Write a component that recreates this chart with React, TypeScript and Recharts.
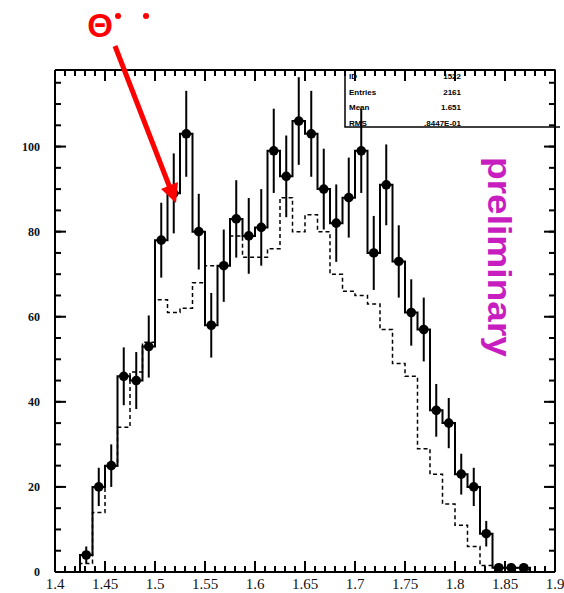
import React from 'react';
import { ComposedChart, Line, Scatter, ErrorBar, XAxis, YAxis, ReferenceLine } from 'recharts';

// mass bins (GeV), width 0.0125
const binCenters = [
  1.43125, 1.44375, 1.45625, 1.46875, 1.48125, 1.49375, 1.50625, 1.51875, 1.53125,
  1.54375, 1.55625, 1.56875, 1.58125, 1.59375, 1.60625, 1.61875, 1.63125, 1.64375,
  1.65625, 1.66875, 1.68125, 1.69375, 1.70625, 1.71875, 1.73125, 1.74375, 1.75625,
  1.76875, 1.78125, 1.79375, 1.80625, 1.81875, 1.83125, 1.84375, 1.85625, 1.86875,
];
const binWidth = 0.0125;

// measured counts (points with error bars, solid histogram)
const dataCounts = [
  4, 20, 25, 46, 45, 53, 78, 89, 103, 80, 58, 72, 83, 79, 81, 99, 93, 106,
  103, 90, 82, 88, 99, 75, 91, 73, 61, 57, 38, 35, 23, 20, 9, 1, 1, 1,
];
const dataErrors = [
  2, 4.5, 5, 6.8, 6.7, 7.3, 8.8, 9.4, 10.1, 8.9, 7.6, 8.5, 9.1, 8.9, 9, 9.9, 9.6, 10.3,
  10.1, 9.5, 9.1, 9.4, 9.9, 8.7, 9.5, 8.5, 7.8, 7.5, 6.2, 5.9, 4.8, 4.5, 3, 1, 1, 1,
];

// reference distribution (dashed histogram)
const refCounts = [
  2, 14, 25, 34, 47, 54, 64, 61, 62, 68, 72, 72, 79, 74, 74, 76, 88, 80,
  84, 80, 70, 66, 65, 63, 57, 49, 46, 29, 23, 16, 11, 6, 1.5, 1, 1, 0.5,
];

const xMajorTicks = [1.4, 1.45, 1.5, 1.55, 1.6, 1.65, 1.7, 1.75, 1.8, 1.85, 1.9];
const yMajorTicks = [0, 20, 40, 60, 80, 100];
const xMinorTicks = Array.from({ length: 49 }, (_, i) => +(1.41 + i * 0.01).toFixed(2));
const yMinorTicks = Array.from({ length: 23 }, (_, i) => (i + 1) * 5);

const statsLabels = ['ID', 'Entries', 'Mean', 'RMS'];
const statsValues = ['1522', '2161', '1.651', '.8447E-01'];

const W = 564;
const H = 593;
const X_DOMAIN: [number, number] = [1.4, 1.9];
const Y_DOMAIN: [number, number] = [0, 118];
// one pixel of the plot area in data units (plot is 500 x 502 px)
const PX_X = (X_DOMAIN[1] - X_DOMAIN[0]) / 500;
const PX_Y = (Y_DOMAIN[1] - Y_DOMAIN[0]) / 502;

// histogram outline points for a stepAfter line
const outline = (counts: number[]) => {
  const last = binCenters.length - 1;
  const pts = [{ x: binCenters[0] - binWidth / 2, y: 0 }];
  counts.forEach((c, i) => pts.push({ x: binCenters[i] - binWidth / 2, y: c }));
  pts.push({ x: binCenters[last] + binWidth / 2, y: counts[last] });
  pts.push({ x: binCenters[last] + binWidth / 2, y: 0 });
  return pts;
};

const dataOutline = outline(dataCounts);
const refOutline = outline(refCounts);
const points = binCenters.map((x, i) => ({ x, y: dataCounts[i], err: dataErrors[i] }));

const frameLine = { stroke: '#000', strokeWidth: 2 };
const Dot = (p: any) => <circle cx={p.cx} cy={p.cy} r={4.8} fill="#000" />;

// inward tick marks on all four sides of the frame
const tickSegments = () => {
  const segs: { x1: number; y1: number; x2: number; y2: number }[] = [];
  const [x0, x1] = X_DOMAIN;
  const [y0, y1] = Y_DOMAIN;
  const addX = (v: number, len: number) => {
    segs.push({ x1: v, y1: y0, x2: v, y2: y0 + len * PX_Y });
    segs.push({ x1: v, y1: y1, x2: v, y2: y1 - len * PX_Y });
  };
  const addY = (v: number, len: number) => {
    segs.push({ x1: x0, y1: v, x2: x0 + len * PX_X, y2: v });
    segs.push({ x1: x1, y1: v, x2: x1 - len * PX_X, y2: v });
  };
  xMajorTicks.forEach((v) => addX(v, 11));
  xMinorTicks.forEach((v) => addX(v, 6));
  yMajorTicks.forEach((v) => addY(v, 11));
  yMinorTicks.forEach((v) => addY(v, 6));
  return segs;
};
const ticks = tickSegments();

export default function App() {
  return (
    <div style={{ position: 'absolute', left: 0, top: 0, width: W, height: H, background: '#fff' }}>
      <ComposedChart width={W} height={H} margin={{ top: 70, right: 9, bottom: 0, left: 0 }}>
        <XAxis
          xAxisId="x" type="number" dataKey="x" domain={X_DOMAIN} allowDataOverflow
          ticks={xMajorTicks} interval={0} height={21} tickLine={false} tickSize={0} tickMargin={6}
          axisLine={frameLine}
          tick={{ fontFamily: 'Liberation Serif', fontSize: 15, fill: '#111' }}
        />
        <YAxis
          yAxisId="y" type="number" domain={Y_DOMAIN} allowDataOverflow
          ticks={yMajorTicks} interval={0} width={55} tickLine={false} tickSize={0} tickMargin={15}
          axisLine={frameLine}
          tick={{ fontFamily: 'Liberation Serif', fontSize: 12, fontWeight: 700, fill: '#111' }}
        />
        {/* top and right sides of the frame */}
        <ReferenceLine xAxisId="x" yAxisId="y" y={Y_DOMAIN[1]} stroke="#000" strokeWidth={2} ifOverflow="visible" />
        <ReferenceLine xAxisId="x" yAxisId="y" x={X_DOMAIN[1]} stroke="#000" strokeWidth={2} ifOverflow="visible" />
        {ticks.map((s, i) => (
          <ReferenceLine
            key={i} xAxisId="x" yAxisId="y" ifOverflow="visible"
            segment={[{ x: s.x1, y: s.y1 }, { x: s.x2, y: s.y2 }]}
            stroke="#000" strokeWidth={2}
          />
        ))}

        <Line
          xAxisId="x" yAxisId="y" data={refOutline} dataKey="y" type="stepAfter"
          stroke="#000" strokeWidth={1.5} strokeDasharray="4 3" dot={false} activeDot={false}
          isAnimationActive={false}
        />
        <Line
          xAxisId="x" yAxisId="y" data={dataOutline} dataKey="y" type="stepAfter"
          stroke="#000" strokeWidth={2} dot={false} activeDot={false}
          isAnimationActive={false}
        />
        <Scatter xAxisId="x" yAxisId="y" data={points} dataKey="y" shape={Dot} isAnimationActive={false}>
          <ErrorBar dataKey="err" direction="y" width={0} stroke="#000" strokeWidth={2} isAnimationActive={false} />
        </Scatter>
      </ComposedChart>

      <svg width={W} height={H} style={{ position: 'absolute', left: 0, top: 0, pointerEvents: 'none' }}>
        {/* stats box */}
        <rect x={345} y={70} width={210} height={57} fill="none" stroke="#000" strokeWidth={1.5} />
        <line x1={555} y1={127} x2={560} y2={127} stroke="#000" strokeWidth={1.5} />
        {statsLabels.map((s, i) => (
          <text key={s} x={349} y={79 + i * 15.5} fontFamily="Liberation Sans" fontSize={8} fontWeight={700} fill="#000">
            {s}
          </text>
        ))}
        {statsValues.map((s, i) => (
          <text key={s} x={461} y={79 + i * 15.5} textAnchor="end" fontFamily="Liberation Sans" fontSize={8} fontWeight={700} fill="#000">
            {s}
          </text>
        ))}

        {/* Theta annotation */}
        <text x={100} y={37} textAnchor="middle" fontFamily="Liberation Sans" fontWeight={700} fontSize={33} fill="#f00">
          Θ
        </text>
        <circle cx={118} cy={16} r={3} fill="#f00" />
        <circle cx={146} cy={16} r={3} fill="#f00" />
        <line x1={115} y1={46} x2={170} y2={188} stroke="#f00" strokeWidth={5} />
        <polygon points="176,203 178,182 161,189" fill="#f00" />

        <text
          transform="translate(488,157) rotate(90)"
          fontFamily="Liberation Sans" fontSize={33} fontWeight={700} fill="#c81ec0"
          textLength={200} lengthAdjust="spacingAndGlyphs"
        >
          preliminary
        </text>
      </svg>
    </div>
  );
}
